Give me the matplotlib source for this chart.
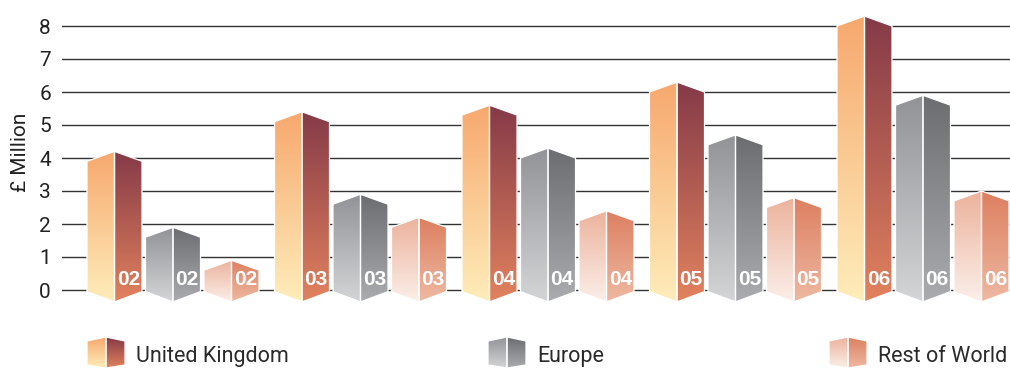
import numpy as np
import matplotlib
matplotlib.use('Agg')
import matplotlib.pyplot as plt
from matplotlib.patches import Polygon
from matplotlib.colors import to_rgb

# ---------------- data ----------------
years = ['02', '03', '04', '05', '06']
series = ['United Kingdom', 'Europe', 'Rest of World']
uk = [3.9, 5.1, 5.3, 6.0, 8.0]
europe = [1.6, 2.6, 4.0, 4.4, 5.6]
rest_of_world = [0.6, 1.9, 2.1, 2.5, 2.7]
yticks = [0, 1, 2, 3, 4, 5, 6, 7, 8]
ylabel = '£ Million'

values = [uk, europe, rest_of_world]

# face colours: (left top, left bottom, right top, right bottom)
palette = [
    ('#F7A86E', '#FEEDBA', '#853A48', '#E2825E'),
    ('#929397', '#D4D5D7', '#6C6D71', '#ABACB0'),
    ('#ECB29C', '#FBEFE9', '#DD7F60', '#EEB9A2'),
]

FONT = ['Roboto', 'DejaVu Sans']
plt.rcParams['font.family'] = FONT

W, H = 1010, 369
fig = plt.figure(figsize=(W / 100, H / 100), dpi=100)
ax = fig.add_axes([62 / W, (H - 306.5) / H, (W - 62) / W, 297 / H])
XLIM = (-0.592, 4.464)
YLIM = (-0.5, 8.5)


def grad_face(axis, verts, ctop, cbot, z):
    verts = np.asarray(verts, dtype=float)
    x0, x1 = verts[:, 0].min(), verts[:, 0].max()
    y0, y1 = verts[:, 1].min(), verts[:, 1].max()
    t = np.linspace(0, 1, 256)[:, None]
    img = (1 - t) * np.array(to_rgb(ctop)) + t * np.array(to_rgb(cbot))
    img = img[:, None, :]
    poly = Polygon(verts, closed=True, facecolor='none', edgecolor='white',
                   lw=0.9, zorder=z + 0.1)
    axis.add_patch(poly)
    im = axis.imshow(img, extent=[x0, x1, y0, y1], origin='upper',
                     aspect='auto', zorder=z, interpolation='bilinear')
    im.set_clip_path(poly)


# gridlines
for yv in yticks:
    ax.axhline(yv, color='#333333', lw=1.0, zorder=1)

pitch = 0.312      # bar pitch within a group (group pitch = 1)
half = 0.1467      # half bar width
dt = 0.30          # ridge peak above side top
db = 0.36          # ridge bottom below baseline
db0 = 0.05         # side bottom below baseline

for g, yr in enumerate(years):
    for k, vals in enumerate(values):
        v = vals[g]
        xc = g + (k - 1) * pitch
        xl, xr = xc - half, xc + half
        lt, lb, rt, rb = palette[k]
        left = [(xl, v), (xc, v + dt), (xc, -db), (xl, -db0)]
        right = [(xc, v + dt), (xr, v), (xr, -db0), (xc, -db)]
        grad_face(ax, left, lt, lb, 3)
        grad_face(ax, right, rt, rb, 3)
        ax.text((xc + xr) / 2, 0.32, yr, color='white', fontsize=15,
                fontweight='bold', ha='center', va='center', zorder=6,
                family=['Liberation Sans', 'DejaVu Sans'])

ax.set_xlim(*XLIM)
ax.set_ylim(*YLIM)
ax.set_xticks([])
ax.set_yticks(yticks)
ax.set_yticklabels([str(t) for t in yticks])
ax.tick_params(axis='y', length=0, pad=8, labelsize=15, labelcolor='#222222')
for s in ax.spines.values():
    s.set_visible(False)
ax.patch.set_alpha(0)

fig.text(20 / W, 1 - 152 / H, ylabel, rotation=90, ha='center', va='center',
         fontsize=15, color='#222222')

# legend (pixel-coordinate overlay, y measured upward)
ov = fig.add_axes([0, 0, 1, 1])
ov.set_xlim(0, W)
ov.set_ylim(0, H)
ov.axis('off')
icon_x = [87, 488, 829]
for k, name in enumerate(series):
    x0 = icon_x[k]
    xm, x1 = x0 + 19, x0 + 38
    lt, lb, rt, rb = palette[k]
    left = [(x0, H - 341), (xm, H - 337), (xm, H - 368), (x0, H - 365)]
    right = [(xm, H - 337), (x1, H - 341), (x1, H - 365), (xm, H - 368)]
    grad_face(ov, left, lt, lb, 3)
    grad_face(ov, right, rt, rb, 3)
    ov.text(x1 + 11, H - 362, name, fontsize=15.5, color='#2a2a2a',
            ha='left', va='baseline')
ov.set_xlim(0, W)
ov.set_ylim(0, H)

fig.savefig('out.png', dpi=100)
